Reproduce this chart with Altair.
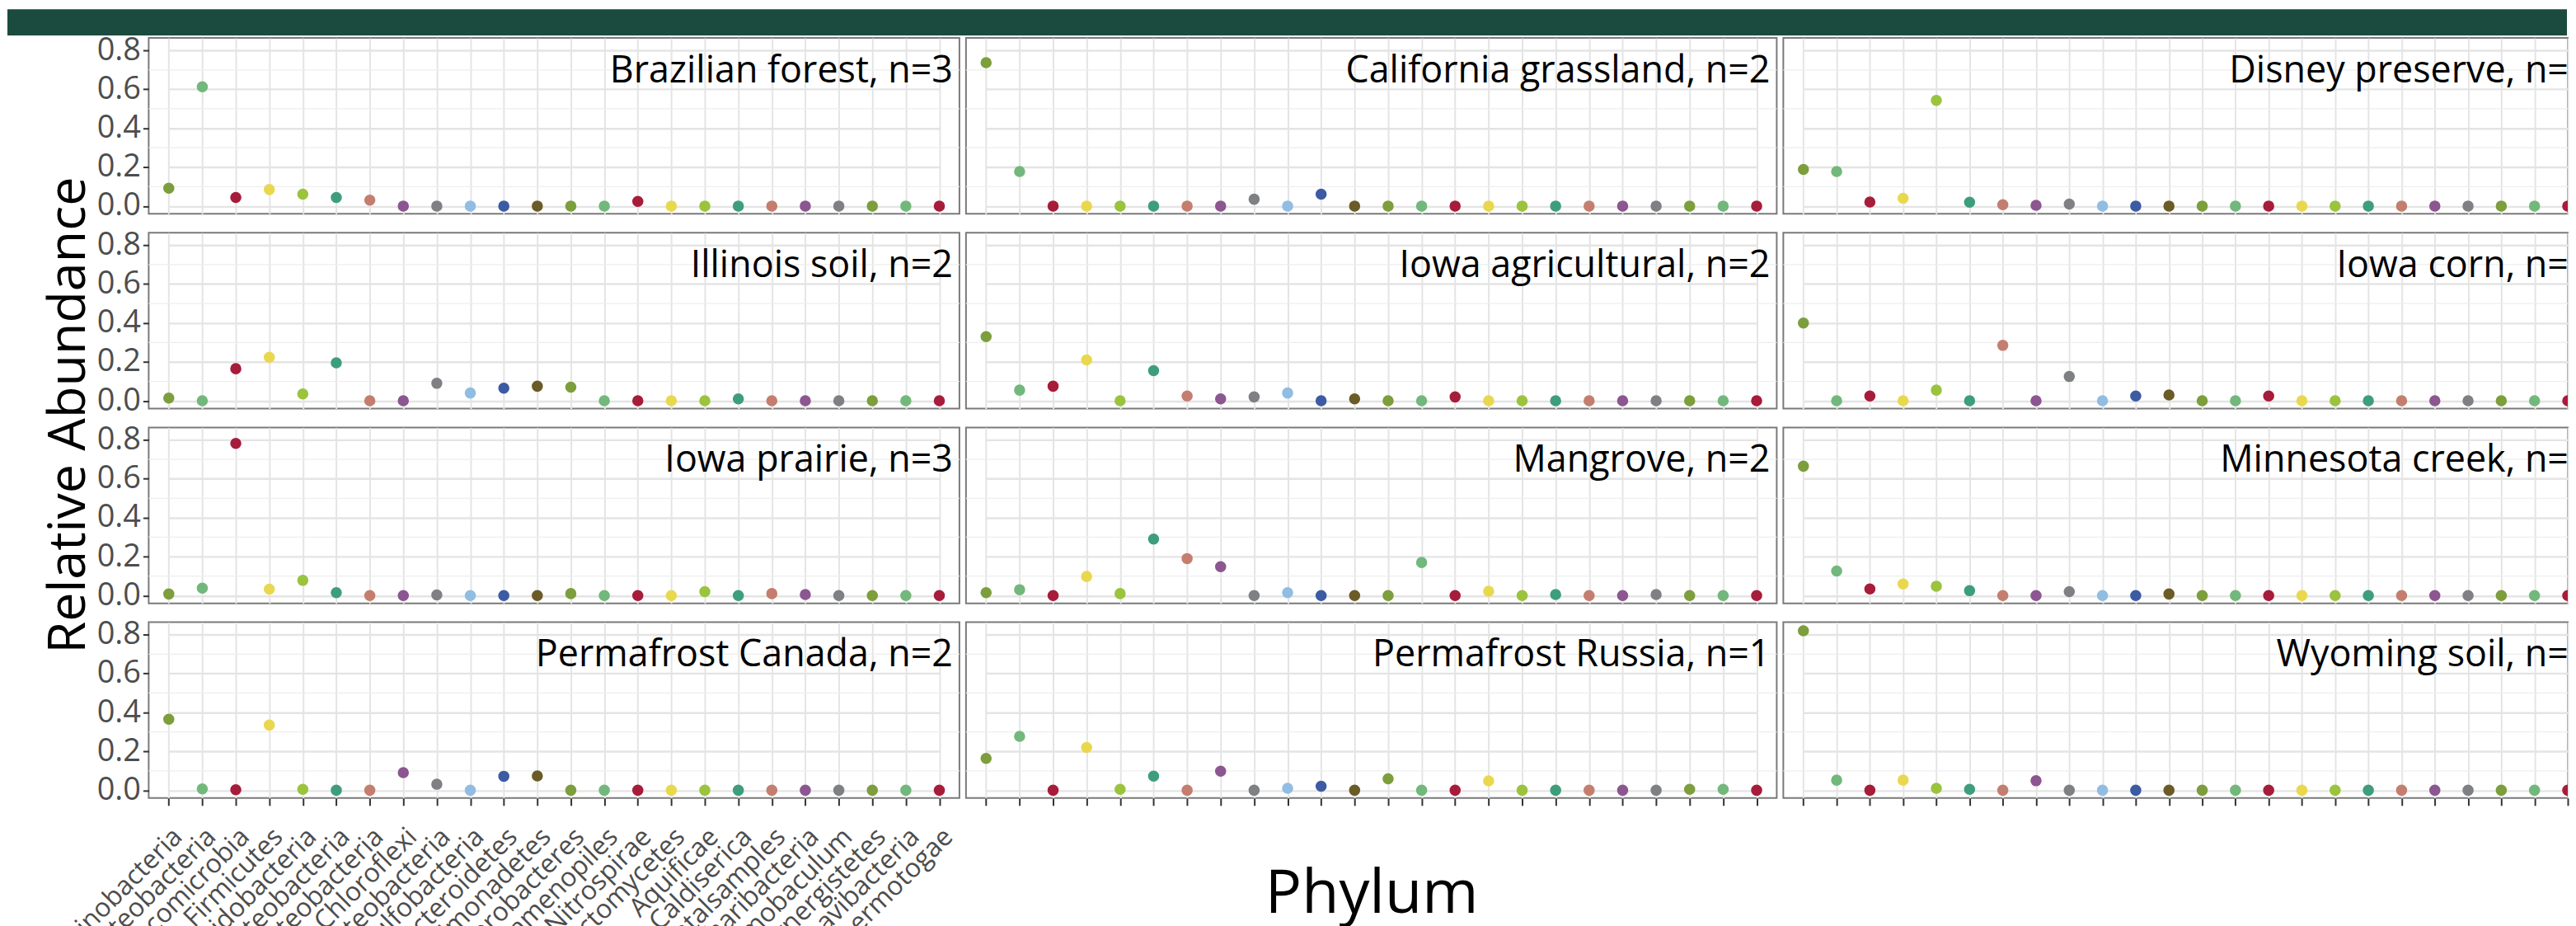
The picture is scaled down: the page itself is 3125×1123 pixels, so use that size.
import altair as alt
import pandas as pd

# ---------------- data ----------------
phyla = [
    "Actinobacteria", "Alphaproteobacteria", "Verrucomicrobia", "Firmicutes",
    "Acidobacteria", "Betaproteobacteria", "Gammaproteobacteria", "Chloroflexi",
    "Deltaproteobacteria", "Thermodesulfobacteria", "Bacteroidetes", "Gemmatimonadetes",
    "Fibrobacteres", "Stramenopiles", "Nitrospirae", "Planctomycetes",
    "Aquificae", "Caldiserica", "environmentalsamples", "Saccharibacteria",
    "Thermobaculum", "Synergistetes", "Ignavibacteria", "Thermotogae",
]
phylum_colors = [
    "#7d9e3c", "#72b87c", "#a71c3a", "#e9d84e", "#9bc33d", "#3e9e7b",
    "#c47e6f", "#8c5690", "#7f8084", "#91bde3", "#3d5ba3", "#6b5b26",
    "#7d9e3c", "#72b87c", "#a71c3a", "#e9d84e", "#9bc33d", "#3e9e7b",
    "#c47e6f", "#8c5690", "#7f8084", "#7d9e3c", "#72b87c", "#a71c3a",
]
# panel labels as far as they are visible (right column is cut at the figure edge)
sites = [
    "Brazilian forest, n=3", "California grassland, n=2", "Disney preserve, n=",
    "Illinois soil, n=2", "Iowa agricultural, n=2", "Iowa corn, n=",
    "Iowa prairie, n=3", "Mangrove, n=2", "Minnesota creek, n=",
    "Permafrost Canada, n=2", "Permafrost Russia, n=1", "Wyoming soil, n=",
]
brazilian_forest = [0.092, 0.613, 0.044, 0.085, 0.061, 0.044, 0.030, 0, 0, 0, 0, 0,
                    0, 0, 0.024, 0, 0, 0, 0, 0, 0, 0, 0, 0]
california_grassland = [0.737, 0.178, 0, 0, 0, 0, 0, 0, 0.035, 0, 0.061, 0,
                        0, 0, 0, 0, 0, 0, 0, 0, 0, 0, 0, 0]
disney_preserve = [0.188, 0.178, 0.021, 0.040, 0.543, 0.020, 0.007, 0.004, 0.010, 0, 0, 0,
                   0, 0, 0, 0, 0, 0, 0, 0, 0, 0, 0, 0]
illinois_soil = [0.014, 0.0, 0.165, 0.224, 0.035, 0.195, 0, 0, 0.09, 0.04, 0.065, 0.075,
                 0.07, 0, 0, 0, 0, 0.01, 0, 0, 0, 0, 0, 0]
iowa_agricultural = [0.33, 0.055, 0.075, 0.21, 0.0, 0.155, 0.025, 0.01, 0.02, 0.04, 0, 0.01,
                     0, 0, 0.02, 0, 0, 0, 0, 0, 0, 0, 0, 0]
iowa_corn = [0.40, 0, 0.025, 0, 0.055, 0, 0.285, 0, 0.125, 0, 0.025, 0.03,
             0, 0, 0.025, 0, 0, 0, 0, 0, 0, 0, 0, 0]
iowa_prairie = [0.008, 0.038, 0.782, 0.033, 0.078, 0.015, 0, 0, 0.003, 0, 0, 0,
                0.01, 0, 0, 0, 0.02, 0, 0.01, 0.005, 0, 0, 0, 0]
mangrove = [0.015, 0.03, 0, 0.098, 0.01, 0.29, 0.19, 0.148, 0, 0.015, 0, 0,
            0, 0.17, 0, 0.022, 0, 0.005, 0, 0, 0.005, 0, 0, 0]
minnesota_creek = [0.665, 0.126, 0.034, 0.059, 0.048, 0.025, 0, 0, 0.02, 0, 0, 0.008,
                   0, 0, 0, 0, 0, 0, 0, 0, 0, 0, 0, 0]
permafrost_canada = [0.365, 0.007, 0.003, 0.335, 0.005, 0, 0, 0.091, 0.031, 0, 0.072, 0.074,
                     0, 0, 0, 0, 0, 0, 0, 0, 0, 0, 0, 0]
permafrost_russia = [0.164, 0.277, 0, 0.22, 0.005, 0.073, 0, 0.098, 0, 0.01, 0.021, 0,
                     0.059, 0, 0, 0.048, 0, 0, 0, 0, 0, 0.005, 0.005, 0]
wyoming_soil = [0.82, 0.052, 0, 0.052, 0.01, 0.005, 0, 0.049, 0, 0, 0, 0,
                0, 0, 0, 0, 0, 0, 0, 0, 0, 0, 0, 0]
abundances = [
    brazilian_forest, california_grassland, disney_preserve,
    illinois_soil, iowa_agricultural, iowa_corn,
    iowa_prairie, mangrove, minnesota_creek,
    permafrost_canada, permafrost_russia, wyoming_soil,
]
y_major = [0.0, 0.2, 0.4, 0.6, 0.8]
y_minor = [0.1, 0.3, 0.5, 0.7]

# ---------------- style ----------------
FONT = "Open Sans"
COL_W = [987, 987, 955]          # right column is cut by the figure edge
PANEL_H = 214
STEP = COL_W[0] / 24.2           # ggplot discrete expansion of 0.6 on each side
GRID = "#e4e4e4"
yscale = alt.Scale(domain=[-0.04, 0.864], nice=False, zero=False)
color_scale = alt.Scale(domain=phyla, range=phylum_colors)


def make_panel(idx):
    row, col = divmod(idx, 3)
    bottom = row == 3
    width = COL_W[col]
    data = pd.DataFrame({"phylum": phyla, "value": abundances[idx]})

    xaxis = alt.Axis(
        title=None, grid=True, gridColor=GRID, gridWidth=2, domain=False,
        ticks=bottom, tickColor="#333333", tickSize=9, tickWidth=2,
        labels=bottom and col == 0, labelAngle=-45, labelAlign="right",
        labelBaseline="top", labelFont=FONT, labelFontSize=32,
        labelColor="#4d4d4d", labelPadding=22, labelLimit=1000, labelOverlap=False,
    )
    yaxis = alt.Axis(
        title=None, values=y_major, format=".1f", grid=True, gridColor=GRID,
        gridWidth=2.4, domain=False, ticks=col == 0, labels=col == 0,
        tickColor="#333333", tickSize=7, tickWidth=2, labelFont=FONT,
        labelFontSize=38, labelColor="#4d4d4d", labelPadding=3,
    )
    x_end = 0.6 * STEP + 23 * STEP if col < 2 else width
    xscale = alt.Scale(range=[0.6 * STEP, x_end], padding=0)

    minor = alt.Chart(pd.DataFrame({"value": y_minor})).mark_rule(
        color="#eeeeee", strokeWidth=1.2
    ).encode(y=alt.Y("value:Q", scale=yscale, axis=yaxis))

    points = alt.Chart(data).mark_circle(size=185, opacity=1, clip=True).encode(
        x=alt.X("phylum:N", sort=phyla, scale=xscale, axis=xaxis),
        y=alt.Y("value:Q", scale=yscale, axis=yaxis),
        color=alt.Color("phylum:N", scale=color_scale, legend=None),
    )

    label_x = width - 8 if col < 2 else width + 1
    label = alt.Chart(pd.DataFrame({"t": [sites[idx]]})).mark_text(
        align="right", baseline="alphabetic", font=FONT, fontSize=45, color="black"
    ).encode(x=alt.value(label_x), y=alt.value(54), text="t:N")

    layers = [minor, points, label]

    if idx == 0:  # dark banner at the top of the figure
        banner = alt.Chart(pd.DataFrame({"b": [1]})).mark_rect(
            color="#1b4a3f"
        ).encode(x=alt.value(-172), x2=alt.value(2944), y=alt.value(-35), y2=alt.value(-3))
        layers = [banner] + layers
    if idx == 3:  # shared y title
        ytitle = alt.Chart(pd.DataFrame({"t": ["Relative Abundance"]})).mark_text(
            align="center", baseline="alphabetic", angle=270, font=FONT,
            fontSize=63, color="black"
        ).encode(x=alt.value(-78), y=alt.value(222), text="t:N")
        layers.append(ytitle)
    if idx == 10:  # shared x title
        xtitle = alt.Chart(pd.DataFrame({"t": ["Phylum"]})).mark_text(
            align="center", baseline="alphabetic", font=FONT, fontSize=74, color="black"
        ).encode(x=alt.value(494), y=alt.value(354), text="t:N")
        layers.append(xtitle)

    return alt.layer(*layers).properties(width=width, height=PANEL_H)


panels = [make_panel(i) for i in range(12)]

chart = alt.concat(
    *panels, columns=3, spacing={"row": 23, "column": 8}, bounds="flush"
).configure_view(
    stroke="#7a7a7a", strokeWidth=2
).properties(padding=0, background="white")

chart.save("out.html", embed_options={"renderer": "svg", "actions": False})
